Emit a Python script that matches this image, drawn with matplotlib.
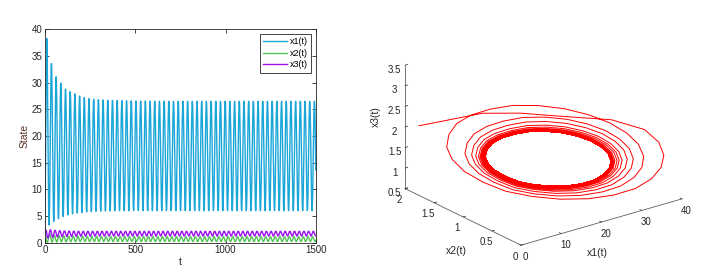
import matplotlib
matplotlib.use('Agg')
import matplotlib.pyplot as plt
import numpy as np

plt.rcParams['font.family'] = ['Liberation Sans', 'DejaVu Sans']

# limit cycle, 24 phase samples (x1 peak at phase 0)
cyc_x1 = [26.5, 26.15, 25.13, 23.5, 21.4, 18.9, 16.25, 13.6, 11.1, 9.0, 7.4, 6.35,
          6.0, 6.35, 7.4, 9.0, 11.1, 13.6, 16.25, 18.9, 21.4, 23.5, 25.13, 26.15]
cyc_x2 = [0.333, 0.259, 0.217, 0.2, 0.217, 0.259, 0.333, 0.43, 0.543, 0.66, 0.777, 0.89,
          0.987, 1.061, 1.102, 1.12, 1.102, 1.061, 0.987, 0.89, 0.777, 0.66, 0.543, 0.43]
cyc_x3 = [1.75, 1.63, 1.52, 1.42, 1.33, 1.28, 1.25, 1.25, 1.28, 1.33, 1.42, 1.52,
          1.63, 1.74, 1.86, 1.96, 2.04, 2.09, 2.13, 2.13, 2.10, 2.04, 1.96, 1.86]

# per-cycle maxima / minima during the transient (then steady value)
x1_hi = [38.3, 33.6, 31.1, 29.9, 28.8, 28.3, 27.9, 27.5, 27.2, 27.0, 26.9, 26.8,
         26.75, 26.7, 26.67, 26.64, 26.62, 26.6, 26.58, 26.57, 26.56, 26.55, 26.54,
         26.53, 26.52, 26.51]
x1_lo = [3.3, 4.0, 4.5, 4.9, 5.2, 5.4, 5.55, 5.65, 5.75, 5.82, 5.88, 5.92,
         5.95, 5.97, 5.98, 5.99]
x2_hi = [1.65, 1.36, 1.27, 1.22, 1.19, 1.175, 1.165, 1.157, 1.15, 1.145, 1.14,
         1.136, 1.133, 1.13, 1.128, 1.126, 1.124, 1.122]
x2_lo = [0.05, 0.08, 0.11, 0.14, 0.16, 0.18, 0.19]
x3_hi = [2.4, 2.3, 2.25, 2.2, 2.17, 2.15, 2.14]
x3_lo = [0.85, 1.0, 1.08, 1.13, 1.16, 1.18, 1.195, 1.205, 1.215, 1.222, 1.23,
         1.235, 1.24, 1.243, 1.246, 1.248]
steady = {'x1': (26.5, 6.0), 'x2': (1.12, 0.2), 'x3': (2.13, 1.25)}

# start of the run, before the first x1 peak
t_start = [0.0, 2.0, 4.0, 5.5, 7.0, 8.5]
x1_start = [2.0, 10.0, 18.0, 24.0, 31.0, 35.0]
x2_start = [1.9, 1.36, 1.255, 1.09, 0.59, 0.30]
x3_start = [2.04, 2.49, 2.34, 2.22, 2.27, 2.12]

period = 26.0
t_first_peak = 10.0
n_cycles = 58


def pad(lst, val):
    return list(lst) + [val] * (n_cycles - len(lst))


def build(cyc, hi, lo, start):
    cyc = np.array(cyc, float)
    s = (cyc - cyc.min()) / (cyc.max() - cyc.min())
    m = len(cyc)
    ev = sorted([(k * m + int(cyc.argmax()), 'hi', hi[k]) for k in range(n_cycles)] +
                [(k * m + int(cyc.argmin()), 'lo', lo[k]) for k in range(n_cycles)])
    top = np.full(n_cycles * m, hi[0])
    bot = np.full(n_cycles * m, lo[0])
    for (p1, k1, v1), (p2, k2, v2) in zip(ev[:-1], ev[1:]):
        top[p1:p2 + 1] = v1 if k1 == 'hi' else v2
        bot[p1:p2 + 1] = v1 if k1 == 'lo' else v2
    top[ev[-1][0]:] = hi[-1]
    bot[ev[-1][0]:] = lo[-1]
    return np.concatenate([start, bot + (top - bot) * np.tile(s, n_cycles)])


nph = len(cyc_x1)
t = list(t_start)
for k in range(n_cycles):
    t.extend(t_first_peak + period * k + np.arange(nph) * period / nph)
t = np.array(t)

x1 = build(cyc_x1, pad(x1_hi, steady['x1'][0]), pad(x1_lo, steady['x1'][1]), x1_start)
x2 = build(cyc_x2, pad(x2_hi, steady['x2'][0]), pad(x2_lo, steady['x2'][1]), x2_start)
x3 = build(cyc_x3, pad(x3_hi, steady['x3'][0]), pad(x3_lo, steady['x3'][1]), x3_start)
keep = t <= 1500
t, x1, x2, x3 = t[keep], x1[keep], x2[keep], x3[keep]

W, H = 713, 269
fig = plt.figure(figsize=(W / 100, H / 100), dpi=100)
dark = '#262626'

# left: time series
ax = fig.add_axes([0.063, 0.098, 0.380, 0.793])
ax.plot(t, x1, color='#1aa6d9', lw=1.0, label='x1(t)')
ax.plot(t, x2, color='#55c455', lw=1.0, label='x2(t)')
ax.plot(t, x3, color='#9a10f0', lw=1.0, label='x3(t)')
ax.set_xlim(0, 1500)
ax.set_ylim(0, 40)
ax.set_xticks([0, 500, 1000, 1500])
ax.set_yticks(np.arange(0, 41, 5))
ax.tick_params(direction='in', top=True, right=True, labelsize=7, length=3,
               width=0.6, pad=2, colors=dark)
for s in ax.spines.values():
    s.set_linewidth(0.6)
    s.set_color(dark)
ax.set_xlabel('t', fontsize=7.5, labelpad=1, color=dark)
ax.set_ylabel('State', fontsize=7.5, labelpad=1, color='#5a3522')
leg = ax.legend(loc='upper right', fontsize=6.5, handlelength=2.6, borderpad=0.35,
                labelspacing=0.3, fancybox=False, edgecolor=dark,
                framealpha=1, borderaxespad=0.5, handletextpad=0.4)
leg.get_frame().set_linewidth(0.6)

# right: phase portrait
ax3 = fig.add_axes([0.517, -0.03, 0.48, 1.05], projection='3d')
ax3.set_proj_type('ortho')
ax3.view_init(elev=22, azim=-127.5)
ax3.plot(x1, x2, x3, color='#ff0000', lw=0.7)
ax3.set_xlim(0, 40)
ax3.set_ylim(0, 2)
ax3.set_zlim(0.5, 3.5)
ax3.set_xticks([0, 10, 20, 30, 40])
ax3.set_yticks([0, 0.5, 1, 1.5, 2])
ax3.set_zticks([0.5, 1, 1.5, 2, 2.5, 3, 3.5])
ax3.set_yticklabels(['0', '0.5', '1', '1.5', '2'])
ax3.set_zticklabels(['0.5', '1', '1.5', '2', '2.5', '3', '3.5'])
ax3.set_box_aspect((1.6, 1.5, 1.05), zoom=1.06)
ax3.grid(False)
for a in (ax3.xaxis, ax3.yaxis, ax3.zaxis):
    a.set_pane_color((1, 1, 1, 0))
    a.pane.set_edgecolor((1, 1, 1, 0))
    a.line.set_color('#606060')
    a.line.set_linewidth(0.6)
    a._axinfo['tick']['inward_factor'] = 0.0
    a._axinfo['tick']['outward_factor'] = 0.2
    a._axinfo['tick']['linewidth'] = {True: 0.5, False: 0.5}
ax3.tick_params(labelsize=7, pad=-4, colors=dark)
fig.text(597 / W, 1 - 253 / H, 'x1(t)', fontsize=7.5, color=dark, ha='center', va='center')
fig.text(456 / W, 1 - 251 / H, 'x2(t)', fontsize=7.5, color=dark, ha='center', va='center')
fig.text(376 / W, 1 - 117 / H, 'x3(t)', fontsize=7.5, color=dark, ha='center', va='center',
         rotation=90)

fig.savefig('out.png', dpi=100)
